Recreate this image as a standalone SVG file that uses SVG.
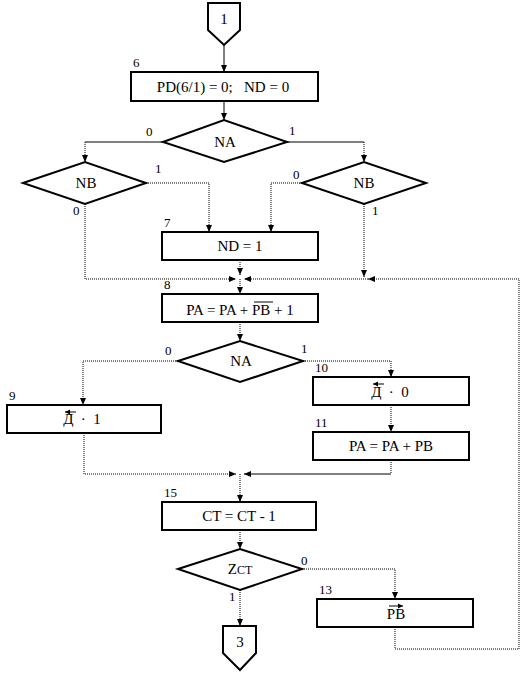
<svg xmlns="http://www.w3.org/2000/svg" width="529" height="673" viewBox="0 0 529 673" font-family="'Liberation Serif', 'Times New Roman', serif">
<style>
.box{fill:#fff;stroke:#000;stroke-width:2}
.dia{fill:#fff;stroke:#000;stroke-width:2}
.t{font-family:'Liberation Serif', serif;font-size:15px;fill:#000;text-anchor:middle}
.n{font-family:'Liberation Serif', serif;font-size:13px;fill:#000}
.s{fill:none;stroke:#000;stroke-width:1}
.d{fill:none;stroke:#000;stroke-width:1;stroke-dasharray:1 1}
.ov{stroke:#000;stroke-width:1}
</style>
<defs>
<marker id="ah" markerUnits="userSpaceOnUse" markerWidth="8" markerHeight="8" refX="7" refY="4" orient="auto">
<path d="M0,1 L7,4 L0,7 Z" fill="#000"/>
</marker>
<marker id="sa" markerUnits="userSpaceOnUse" markerWidth="6" markerHeight="6" refX="5" refY="3" orient="auto">
<path d="M0,0.5 L5,3 L0,5.5 Z" fill="#000"/>
</marker>
</defs>
<g id="connectors">
<path class="s" d="M224,45 V72" marker-end="url(#ah)"/>
<path class="s" d="M224,101 V120" marker-end="url(#ah)"/>
<path class="s" d="M163,142 H85"/>
<path class="d" d="M85,142 V162" marker-end="url(#ah)"/>
<path class="s" d="M287,142 H364"/>
<path class="d" d="M364,142 V162" marker-end="url(#ah)"/>
<path class="d" d="M146,183 H209 V232" marker-end="url(#ah)"/>
<path class="d" d="M302,183 H271 V232" marker-end="url(#ah)"/>
<path class="d" d="M85,204 V279 H236" marker-end="url(#ah)"/>
<path class="d" d="M240,260 V275" marker-end="url(#ah)"/>
<path class="d" d="M364,204 V277" marker-end="url(#ah)"/>
<path class="d" d="M395,627 V649 H519 V279 H368" marker-end="url(#ah)"/>
<path class="d" d="M368,279 H244" marker-end="url(#ah)"/>
<path class="d" d="M240,279 V294" marker-end="url(#ah)"/>
<path class="d" d="M240,322 V341" marker-end="url(#ah)"/>
<path class="d" d="M178,361 H83 V405" marker-end="url(#ah)"/>
<path class="d" d="M303,361 H391 V377" marker-end="url(#ah)"/>
<path class="d" d="M391,405 V432" marker-end="url(#ah)"/>
<path class="d" d="M84,433 V474 H236" marker-end="url(#ah)"/>
<path class="d" d="M391,460 V474"/>
<path class="s" d="M391,474 H244" marker-end="url(#ah)"/>
<path class="d" d="M240,474 V502" marker-end="url(#ah)"/>
<path class="d" d="M240,530 V549" marker-end="url(#ah)"/>
<path class="d" d="M302,569 H395 V599" marker-end="url(#ah)"/>
<path class="d" d="M240,590 V626" marker-end="url(#ah)"/>
</g>
<g id="c1">
<path class="box" d="M208,3 H240 V30 L224,45 L208,30 Z"/>
<text class="t" x="224" y="24">1</text>
</g>
<g id="b6">
<rect class="box" x="131" y="72" width="187" height="29"/>
<text class="n" x="133" y="67">6</text>
<text class="t" x="223" y="92" xml:space="preserve">PD(6/1) = 0;   ND = 0</text>
</g>
<g id="naTop">
<path class="dia" d="M163,142 L224,120 L287,142 L224,162 Z"/>
<text class="t" x="225" y="147">NA</text>
<text class="n" x="146" y="136">0</text>
<text class="n" x="289" y="135">1</text>
</g>
<g id="nbLeft">
<path class="dia" d="M23,183 L85,162 L146,183 L85,204 Z"/>
<text class="t" x="86" y="188">NB</text>
<text class="n" x="155" y="173">1</text>
<text class="n" x="73" y="215">0</text>
</g>
<g id="nbRight">
<path class="dia" d="M302,183 L364,162 L426,183 L364,204 Z"/>
<text class="t" x="364" y="188">NB</text>
<text class="n" x="293" y="179">0</text>
<text class="n" x="372" y="215">1</text>
</g>
<g id="b7">
<rect class="box" x="162" y="232" width="156" height="28"/>
<text class="n" x="164" y="227">7</text>
<text class="t" x="240" y="251">ND = 1</text>
</g>
<g id="b8">
<rect class="box" x="162" y="294" width="156" height="28"/>
<text class="n" x="164" y="289">8</text>
<text class="t" x="240" y="315">PA = PA + PB + 1</text>
<line class="ov" x1="254" y1="302" x2="273" y2="302"/>
</g>
<g id="naMid">
<path class="dia" d="M178,361 L240,341 L303,361 L240,382 Z"/>
<text class="t" x="241" y="366">NA</text>
<text class="n" x="165" y="355">0</text>
<text class="n" x="301" y="353">1</text>
</g>
<g id="b9">
<rect class="box" x="7" y="405" width="154" height="28"/>
<text class="n" x="9" y="400">9</text>
<text class="t" x="82" y="424" xml:space="preserve">Д  ·  1</text>
<line class="ov" x1="76" y1="412" x2="65" y2="412" marker-end="url(#sa)"/>
</g>
<g id="b10">
<rect class="box" x="313" y="377" width="156" height="28"/>
<text class="n" x="315" y="372">10</text>
<text class="t" x="390" y="397" xml:space="preserve">Д  ·  0</text>
<line class="ov" x1="384" y1="384" x2="373" y2="384" marker-end="url(#sa)"/>
</g>
<g id="b11">
<rect class="box" x="313" y="432" width="156" height="28"/>
<text class="n" x="315" y="427">11</text>
<text class="t" x="391" y="451">PA = PA + PB</text>
</g>
<g id="b15">
<rect class="box" x="162" y="502" width="154" height="28"/>
<text class="n" x="164" y="497">15</text>
<text class="t" x="239" y="521">CT = CT - 1</text>
</g>
<g id="zct">
<path class="dia" d="M178,569 L240,549 L302,569 L240,590 Z"/>
<text class="t" x="240" y="574">Z<tspan font-size="12">СТ</tspan></text>
<text class="n" x="301" y="565">0</text>
<text class="n" x="229" y="601">1</text>
</g>
<g id="b13">
<rect class="box" x="317" y="599" width="156" height="28"/>
<text class="n" x="319" y="594">13</text>
<text class="t" x="396" y="619">PB</text>
<line class="ov" x1="389" y1="606" x2="403" y2="606" marker-end="url(#sa)"/>
</g>
<g id="c3">
<path class="box" d="M223,626 H256 V653 L240,670 L223,653 Z"/>
<text class="t" x="240" y="647">3</text>
</g>
</svg>
